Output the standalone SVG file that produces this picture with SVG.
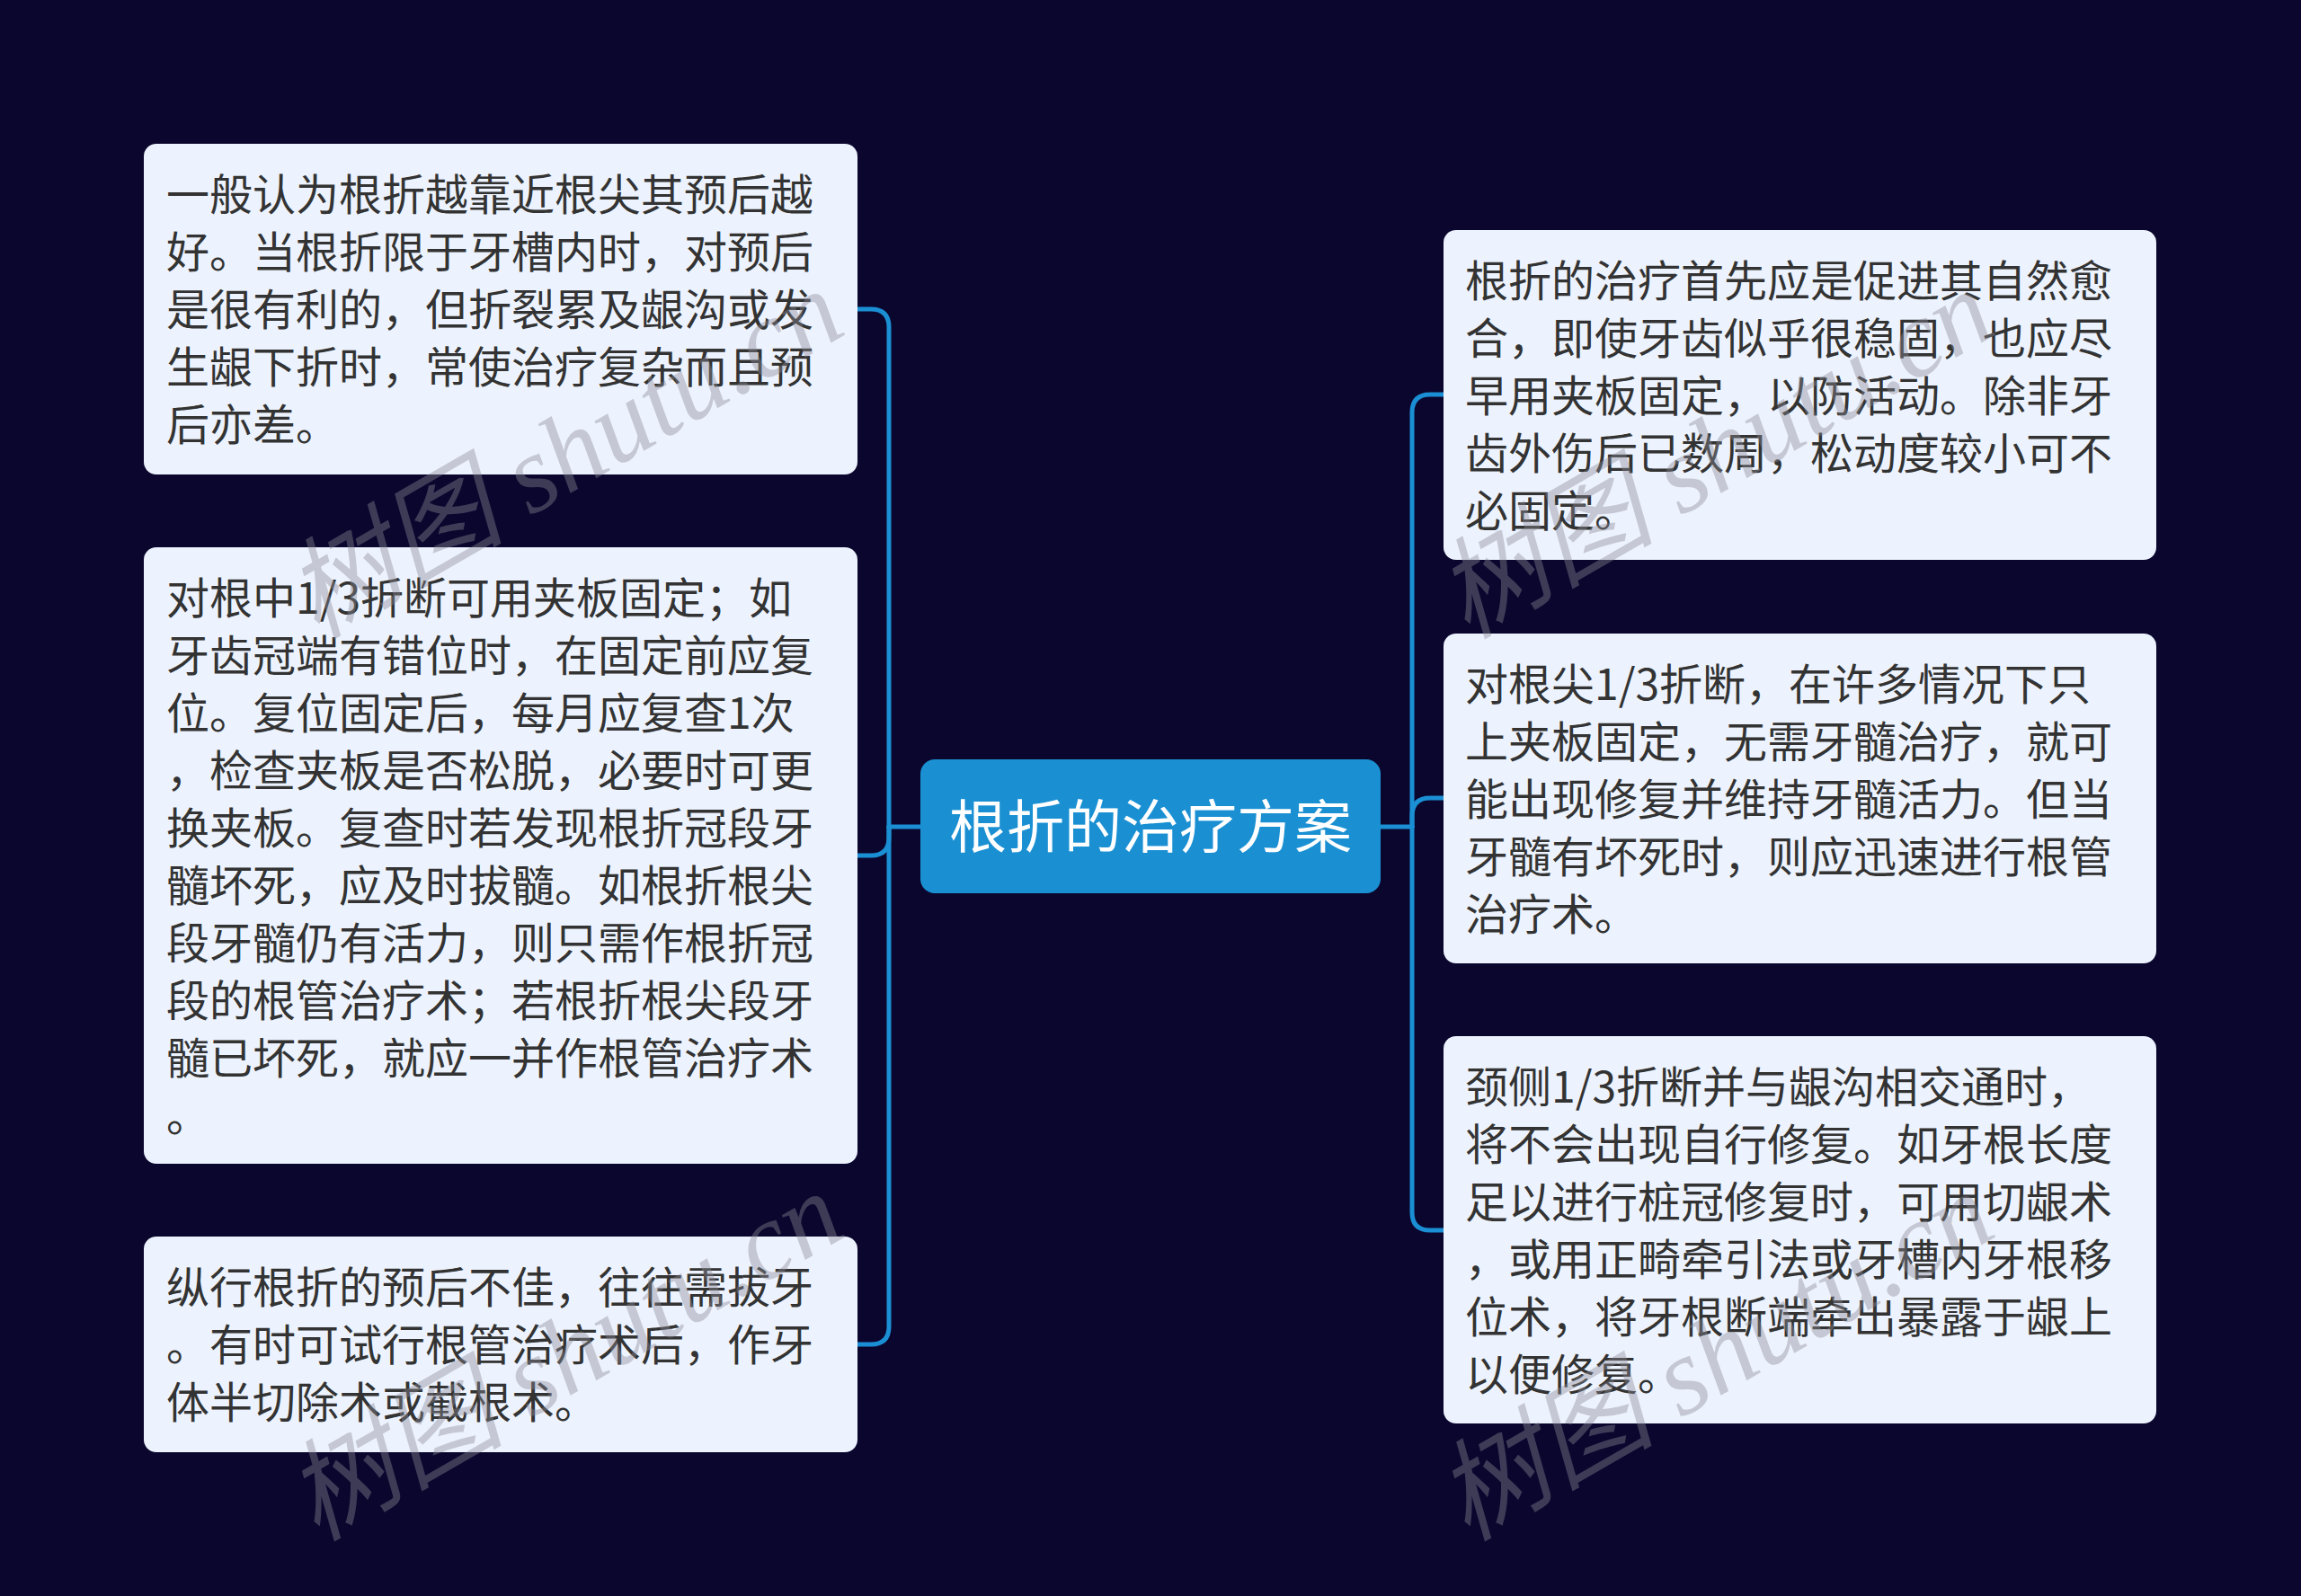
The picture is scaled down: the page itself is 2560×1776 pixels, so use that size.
<svg xmlns="http://www.w3.org/2000/svg" width="2560" height="1776" viewBox="0 0 2560 1776">
<style>
.bg{fill:#0b062e}
.node rect{fill:#edf3fe}
.node text{font-family:"Noto Sans CJK SC","Noto Sans",sans-serif;font-size:48px;fill:#333333}
.root rect{fill:#1a90d3}
.root text{font-family:"Noto Sans CJK SC","Noto Sans",sans-serif;font-size:64px;fill:#ffffff}
.conn path{fill:none;stroke:#1b8fd4;stroke-width:5;stroke-linecap:round;stroke-linejoin:round}
.wm{font-family:"Liberation Serif","Noto Sans CJK SC",serif;font-style:italic;font-size:122px;fill:#8a8a96;opacity:0.4}
</style>
<rect class="bg" x="0" y="0" width="2560" height="1776"/>
<g id="connectors" class="conn">
<path d="M1024 920 H989"/>
<path d="M989 920 V364 Q989 344 969 344 H954"/>
<path d="M989 920 V932 Q989 952 969 952 H954"/>
<path d="M989 920 V1476 Q989 1496 969 1496 H954"/>
<path d="M1536 920 H1571"/>
<path d="M1571 920 V459 Q1571 439 1591 439 H1606"/>
<path d="M1571 920 V908 Q1571 888 1591 888 H1606"/>
<path d="M1571 920 V1349 Q1571 1369 1591 1369 H1606"/>
</g>
<g id="root" class="root">
<rect x="1024" y="845" width="512" height="149" rx="16"/>
<text x="1280" y="943" text-anchor="middle">根折的治疗方案</text>
</g>
<g id="node-l1" class="node">
<rect x="160" y="160" width="794" height="368" rx="14"/>
<text x="185" y="234">一般认为根折越靠近根尖其预后越</text>
<text x="185" y="298">好。当根折限于牙槽内时，对预后</text>
<text x="185" y="362">是很有利的，但折裂累及龈沟或发</text>
<text x="185" y="426">生龈下折时，常使治疗复杂而且预</text>
<text x="185" y="490">后亦差。</text>
</g>
<g id="node-l2" class="node">
<rect x="160" y="609" width="794" height="686" rx="14"/>
<text x="185" y="683">对根中1/3折断可用夹板固定；如</text>
<text x="185" y="747">牙齿冠端有错位时，在固定前应复</text>
<text x="185" y="811">位。复位固定后，每月应复查1次</text>
<text x="185" y="875">，检查夹板是否松脱，必要时可更</text>
<text x="185" y="939">换夹板。复查时若发现根折冠段牙</text>
<text x="185" y="1003">髓坏死，应及时拔髓。如根折根尖</text>
<text x="185" y="1067">段牙髓仍有活力，则只需作根折冠</text>
<text x="185" y="1131">段的根管治疗术；若根折根尖段牙</text>
<text x="185" y="1195">髓已坏死，就应一并作根管治疗术</text>
<text x="185" y="1259">。</text>
</g>
<g id="node-l3" class="node">
<rect x="160" y="1376" width="794" height="240" rx="14"/>
<text x="185" y="1450">纵行根折的预后不佳，往往需拔牙</text>
<text x="185" y="1514">。有时可试行根管治疗术后，作牙</text>
<text x="185" y="1578">体半切除术或截根术。</text>
</g>
<g id="node-r1" class="node">
<rect x="1606" y="256" width="793" height="367" rx="14"/>
<text x="1630" y="330">根折的治疗首先应是促进其自然愈</text>
<text x="1630" y="394">合，即使牙齿似乎很稳固，也应尽</text>
<text x="1630" y="458">早用夹板固定，以防活动。除非牙</text>
<text x="1630" y="522">齿外伤后已数周，松动度较小可不</text>
<text x="1630" y="586">必固定。</text>
</g>
<g id="node-r2" class="node">
<rect x="1606" y="705" width="793" height="367" rx="14"/>
<text x="1630" y="779">对根尖1/3折断，在许多情况下只</text>
<text x="1630" y="843">上夹板固定，无需牙髓治疗，就可</text>
<text x="1630" y="907">能出现修复并维持牙髓活力。但当</text>
<text x="1630" y="971">牙髓有坏死时，则应迅速进行根管</text>
<text x="1630" y="1035">治疗术。</text>
</g>
<g id="node-r3" class="node">
<rect x="1606" y="1153" width="793" height="431" rx="14"/>
<text x="1630" y="1227">颈侧1/3折断并与龈沟相交通时，</text>
<text x="1630" y="1291">将不会出现自行修复。如牙根长度</text>
<text x="1630" y="1355">足以进行桩冠修复时，可用切龈术</text>
<text x="1630" y="1419">，或用正畸牵引法或牙槽内牙根移</text>
<text x="1630" y="1483">位术，将牙根断端牵出暴露于龈上</text>
<text x="1630" y="1547">以便修复。</text>
</g>
<g id="watermarks">
<text class="wm" transform="translate(352 712) rotate(-30)">树图 shutu.cn</text>
<text class="wm" transform="translate(1632 712) rotate(-30)">树图 shutu.cn</text>
<text class="wm" transform="translate(352 1716) rotate(-30)">树图 shutu.cn</text>
<text class="wm" transform="translate(1632 1716) rotate(-30)">树图 shutu.cn</text>
</g>
</svg>
